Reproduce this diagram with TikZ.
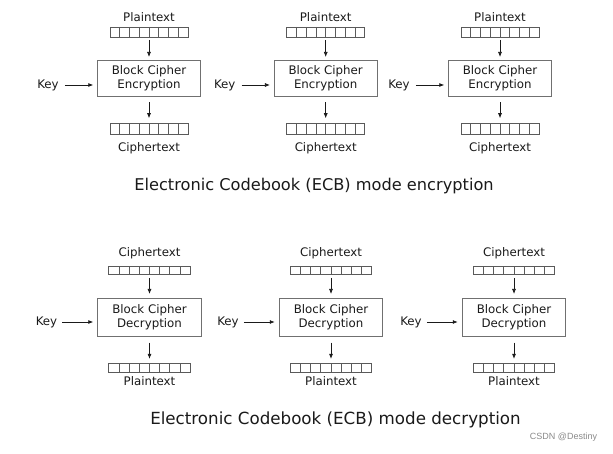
\documentclass[tikz,border=0pt]{standalone}
\usepackage{fontspec}
\setmainfont{DejaVu Sans}
\newfontfamily\markfont{Liberation Sans}
\usetikzlibrary{calc,arrows.meta}

\definecolor{ink}{HTML}{1A1A1A}
\definecolor{frame}{HTML}{707070}
\definecolor{cellline}{HTML}{5A5A5A}
\definecolor{marktext}{HTML}{8A8A8A}

\tikzset{
  lbl/.style={font=\fontsize{11.8}{14}\selectfont, text=ink, inner sep=0pt},
  cipherbox/.style={draw=frame, line width=0.8pt, align=center, inner sep=0pt,
    outer sep=0pt, font=\fontsize{11.8}{14}\selectfont, text=ink},
  encbox/.style={cipherbox, minimum width=102.5pt, minimum height=36.5pt},
  decbox/.style={cipherbox, minimum width=103.5pt, minimum height=37.5pt},
  register/.style={draw=cellline, line width=0.8pt, inner sep=0pt, outer sep=0pt},
  encreg/.style={register, minimum width=78pt, minimum height=10.5pt},
  decreg/.style={register, minimum width=81.5pt, minimum height=8.3pt},
  cellsep/.style={draw=cellline, line width=0.8pt},
  flow/.style={draw=ink, line width=0.7pt, -{Latex[length=5pt,width=4pt]}},
  modetitle/.style={text=ink, inner sep=0pt},
}

\begin{document}
\begin{tikzpicture}[x=1pt, y=-1pt]
  \fill[white] (0,0) rectangle (613,454);
  \useasboundingbox (0,0) rectangle (613,454);

  % encryption row
  \foreach \i/\cx in {1/149, 2/325.7, 3/500} {
    \node[lbl] (ptin\i) at (\cx,17) {Plaintext};
    \node[encreg] (rin\i) at (\cx,32.2) {};
    \node[encbox] (enc\i) at (\cx,78.25) {Block Cipher\\Encryption};
    \node[encreg] (rout\i) at (\cx,129) {};
    \node[lbl] (ctout\i) at (\cx,148) {Ciphertext};
    \node[lbl] (kenc\i) at (\cx-101,85) {Key};
    \foreach \k in {1,...,7} {
      \draw[cellsep] ($(rin\i.north west)!\k/8!(rin\i.north east)$) -- ($(rin\i.south west)!\k/8!(rin\i.south east)$);
      \draw[cellsep] ($(rout\i.north west)!\k/8!(rout\i.north east)$) -- ($(rout\i.south west)!\k/8!(rout\i.south east)$);
    }
    \draw[flow, shorten <=2.5pt, shorten >=3pt] (rin\i) -- (enc\i);
    \draw[flow, shorten <=6pt, shorten >=5.5pt] (enc\i) -- (rout\i);
    \draw[flow, shorten <=6pt, shorten >=4.5pt] (kenc\i.east) -- (kenc\i.east -| enc\i.west);
  }
  \node[modetitle, font=\fontsize{16.2}{19}\selectfont] (enctitle) at (314,186)
    {Electronic Codebook (ECB) mode encryption};

  % decryption row
  \foreach \i/\cx in {1/149.5, 2/331, 3/514} {
    \node[lbl] (ctin\i) at (\cx,253) {Ciphertext};
    \node[decreg] (din\i) at (\cx,270.2) {};
    \node[decbox] (dec\i) at (\cx,317.25) {Block Cipher\\Decryption};
    \node[decreg] (dout\i) at (\cx,368) {};
    \node[lbl] (ptout\i) at (\cx,381.5) {Plaintext};
    \node[lbl] (kdec\i) at (\cx-103,322) {Key};
    \foreach \k in {1,...,7} {
      \draw[cellsep] ($(din\i.north west)!\k/8!(din\i.north east)$) -- ($(din\i.south west)!\k/8!(din\i.south east)$);
      \draw[cellsep] ($(dout\i.north west)!\k/8!(dout\i.north east)$) -- ($(dout\i.south west)!\k/8!(dout\i.south east)$);
    }
    \draw[flow, shorten <=3.5pt, shorten >=4.5pt] (din\i) -- (dec\i);
    \draw[flow, shorten <=6.5pt, shorten >=5pt] (dec\i) -- (dout\i);
    \draw[flow, shorten <=5pt, shorten >=4.5pt] (kdec\i.east) -- (kdec\i.east -| dec\i.west);
  }
  \node[modetitle, font=\fontsize{16.7}{20}\selectfont] (dectitle) at (335.5,420)
    {Electronic Codebook (ECB) mode decryption};

  \node[text=marktext, inner sep=0pt, font=\markfont\fontsize{9}{11}\selectfont] (mark)
    at (563.5,437) {CSDN @Destiny};
\end{tikzpicture}
\end{document}
